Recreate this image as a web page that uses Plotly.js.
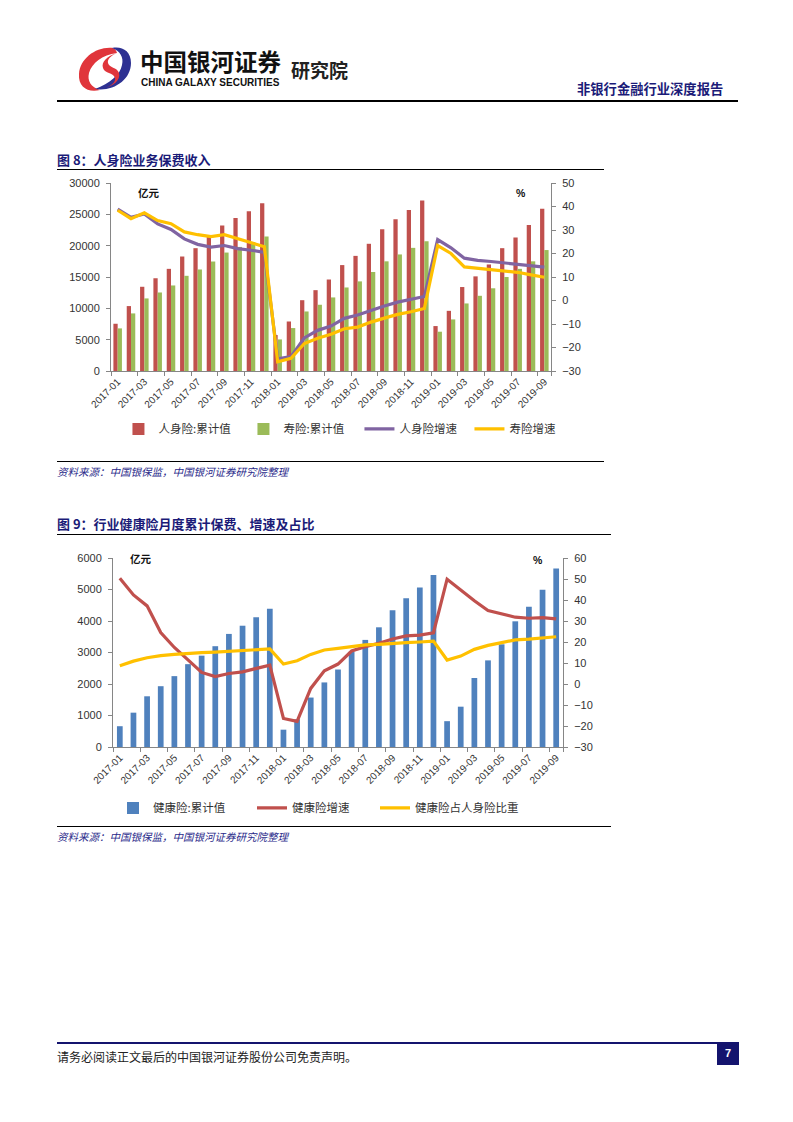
<!DOCTYPE html>
<html>
<head>
<meta charset="utf-8">
<script src="https://cdn.plot.ly/plotly-3.0.1.min.js"></script>
<style>
  html, body { margin:0; padding:0; background:#fff; }
  body { width:793px; height:1122px; position:relative; overflow:hidden; font-family:"Noto Sans CJK SC", "Noto Sans", sans-serif; }
  .abs { position:absolute; white-space:nowrap; line-height:1; }
  .rule { position:absolute; background:#000; }
  .title { color:#1b1b78; font-weight:700; font-size:13px; }
  .src { color:#2a2a8a; font-style:italic; font-size:10.5px; }
  #c1, #c2 { position:absolute; left:0; width:793px; height:290px; }
</style>
</head>
<body>
<!-- header -->
<svg class="abs" style="left:77px;top:44px" width="56" height="50" viewBox="0 0 56 50">
  <path d="M36,4 C20,2 3,14 2,30 C1,43 11,49 23,46 C14,43 10,37 12,29 C15,19 25,11 40,9 C39,6 38,5 36,4 Z" fill="#e0353b"/>
  <path d="M18,45 C36,48 54,36 54,19 C54,7 45,2 35,4 C43,7 47,13 45,21 C43,31 33,39 18,45 Z" fill="#2e3192"/>
  <path d="M40,9 C30,12 24,18 26,24 C28,30 36,28 38,34 C39,38 34,42 28,44 C36,42 44,36 42,29 C40,23 32,24 31,19 C30,15 35,11 40,9 Z" fill="#e0353b"/>
</svg>
<div class="abs" style="left:140px;top:50px;font-size:23.5px;font-weight:700;color:#111;">中国银河证券</div>
<div class="abs" style="left:141px;top:77.5px;font-size:10px;font-weight:700;color:#111;font-family:'Liberation Sans',Arial,sans-serif;">CHINA GALAXY SECURITIES</div>
<div class="abs" style="left:291px;top:60px;font-size:19px;font-weight:700;color:#222;">研究院</div>
<div class="abs" style="left:577px;top:81.5px;font-size:13.3px;font-weight:700;color:#1b1b78;">非银行金融行业深度报告</div>
<div class="rule" style="left:57px;top:100px;width:681px;height:2px;"></div>

<!-- figure 8 -->
<div class="abs title" style="left:57px;top:153px;">图 8：人身险业务保费收入</div>
<div class="rule" style="left:57px;top:169px;width:547px;height:1.3px;"></div>
<div id="c1" style="top:172px;"></div>
<div class="rule" style="left:57px;top:460.5px;width:547px;height:1.3px;"></div>
<div class="abs src" style="left:57px;top:467px;">资料来源：中国银保监，中国银河证券研究院整理</div>

<!-- figure 9 -->
<div class="abs title" style="left:57px;top:517px;">图 9：行业健康险月度累计保费、增速及占比</div>
<div class="rule" style="left:57px;top:533.5px;width:554px;height:1.3px;"></div>
<div id="c2" style="top:540px;"></div>
<div class="rule" style="left:57px;top:825.5px;width:554px;height:1.3px;"></div>
<div class="abs src" style="left:57px;top:831.5px;">资料来源：中国银保监，中国银河证券研究院整理</div>

<!-- footer -->
<div class="rule" style="left:57px;top:1041.5px;width:681px;height:2.2px;background:#14146e;"></div>
<div class="abs" style="left:57px;top:1051px;font-size:12px;color:#222;">请务必阅读正文最后的中国银河证券股份公司免责声明。</div>
<div class="abs" style="left:717px;top:1042px;width:22px;height:23px;background:#14146e;color:#fff;font-size:11px;font-weight:700;font-family:'Liberation Sans',Arial,sans-serif;text-align:center;line-height:22px;">7</div>

<script>
// ---------- data ----------
const months = ["2017-01","2017-02","2017-03","2017-04","2017-05","2017-06","2017-07","2017-08","2017-09","2017-10","2017-11","2017-12",
                "2018-01","2018-02","2018-03","2018-04","2018-05","2018-06","2018-07","2018-08","2018-09","2018-10","2018-11","2018-12",
                "2019-01","2019-02","2019-03","2019-04","2019-05","2019-06","2019-07","2019-08","2019-09"];
const tickLabels = ["2017-01","2017-03","2017-05","2017-07","2017-09","2017-11","2018-01","2018-03","2018-05","2018-07","2018-09","2018-11",
                    "2019-01","2019-03","2019-05","2019-07","2019-09"];

// Figure 8
const lifeCum   = [7540,10360,13440,14800,16300,18270,19600,21400,23200,24400,25500,26770,
                   5740,7900,11300,12900,14600,16900,18370,20300,22600,24200,25700,27200,
                   7170,9600,13400,15100,17000,19600,21300,23300,25900];
const termCum   = [6800,9190,11580,12530,13650,15190,16200,17470,18900,19800,20600,21450,
                   5040,6850,9500,10570,11740,13330,14300,15800,17500,18600,19650,20700,
                   6270,8230,10780,12000,13200,15000,16300,17500,19300];
const lifeGrowth = [38.9,35.4,36.8,32.6,30.2,26.2,23.9,22.7,23.4,22.1,21.4,20.5,
                    -24.8,-23.9,-15.9,-12.7,-10.9,-7.6,-6.2,-4.1,-2.3,-0.7,0.4,1.7,
                    25.9,22.4,18.0,17.1,16.6,16.0,15.7,14.9,14.2];
const termGrowth = [38.4,34.8,37.3,34.0,32.7,29.2,28.0,27.2,28.0,26.2,24.5,22.9,
                    -26.1,-24.6,-18.3,-16.1,-14.4,-12.0,-11.3,-9.2,-7.5,-5.9,-4.8,-3.4,
                    23.4,20.0,14.3,13.7,13.0,12.5,12.0,10.9,9.9];

// Figure 9
const healthCum = [660,1090,1610,1930,2250,2630,2900,3200,3590,3850,4120,4390,
                   550,880,1570,2050,2460,3030,3400,3800,4340,4720,5060,5460,
                   820,1280,2190,2750,3260,3990,4450,4990,5670];
const healthGrowth = [50.4,42.4,37.2,24.5,17.4,11.4,5.5,3.5,5.0,5.8,7.3,9.0,
                      -16.4,-17.8,-2.1,6.3,9.5,15.7,17.8,19.4,21.4,22.9,23.3,24.4,
                      49.9,44.8,39.6,35.0,33.4,31.8,31.3,31.6,31.0];
const healthShare = [8.7,10.9,12.5,13.5,14.1,14.6,14.9,15.2,15.6,15.9,16.2,16.7,
                     9.5,11.1,14.1,16.2,17.0,17.8,18.6,18.9,19.4,19.7,20.0,20.4,
                     11.4,13.3,16.5,18.4,19.7,21.0,21.4,22.0,22.5];

// ---------- styling ----------
const tickFont = {family:"Liberation Sans, Arial, sans-serif", size:11, color:"#333"};
const xTickFont = {family:"Liberation Sans, Arial, sans-serif", size:10, color:"#333"};
const legFont = {family:"Noto Sans CJK SC, sans-serif", size:11.5, color:"#333"};
const axisCol = "#868686";

function xAxis() {
  return {type:"category", categoryorder:"array", categoryarray:months,
          tickmode:"array", tickvals:tickLabels, ticktext:tickLabels, tickson:"boundaries",
          tickangle:-45, tickfont:xTickFont, ticks:"outside", ticklen:4, tickcolor:axisCol,
          showline:true, linecolor:axisCol, linewidth:1, showgrid:false, zeroline:false,
          range:[-0.5, months.length-0.5], fixedrange:true};
}
function yAxis(range, dtick, side) {
  const a = {range:range, dtick:dtick, tick0:range[0], tickmode:"linear", tickformat:"d", tickfont:tickFont,
             ticks:"outside", ticklen:4, tickcolor:axisCol, showline:true, linecolor:axisCol,
             linewidth:1, showgrid:false, zeroline:false, ticklabelstandoff:4, fixedrange:true};
  if (side === "right") { a.side = "right"; a.overlaying = "y"; }
  return a;
}

// ---------- Figure 8 ----------
const c1traces = [
  {type:"bar", name:"人身险:累计值", x:months, y:lifeCum, marker:{color:"#C0504D"}, legendwidth:72.5},
  {type:"bar", name:"寿险:累计值", x:months, y:termCum, marker:{color:"#9BBB59"}, legendwidth:63.5},
  {type:"scatter", mode:"lines", name:"人身险增速", x:months, y:lifeGrowth, yaxis:"y2",
   line:{color:"#8064A2", width:3.2}, legendwidth:57.5},
  {type:"scatter", mode:"lines", name:"寿险增速", x:months, y:termGrowth, yaxis:"y2",
   line:{color:"#FFC000", width:3.2}, legendwidth:52}
];
const c1layout = {
  width:793, height:290,
  margin:{l:110.5, r:241.5, t:11, b:90.5, autoexpand:false},
  paper_bgcolor:"rgba(0,0,0,0)", plot_bgcolor:"rgba(0,0,0,0)",
  barmode:"group", bargap:0.36, bargroupgap:0,
  xaxis:xAxis(),
  yaxis:yAxis([0,30000], 5000, "left"),
  yaxis2:yAxis([-30,50], 10, "right"),
  showlegend:true,
  legend:{orientation:"h", x:-0.0001, xanchor:"left", y:-(415-371.5)/188.5, yanchor:"top",
          indentation:7.5, font:legFont, traceorder:"normal", bgcolor:"rgba(0,0,0,0)"},
  annotations:[
    {text:"<b>亿元</b>", xref:"paper", yref:"paper", x:(136-110.5)/441, y:(371.5-193)/188.5,
     xanchor:"left", yanchor:"middle", showarrow:false, font:{family:"Noto Sans CJK SC", size:10.5, color:"#111"}},
    {text:"<b>%</b>", xref:"paper", yref:"paper", x:(521-110.5)/441, y:(371.5-193.5)/188.5,
     xanchor:"center", yanchor:"middle", showarrow:false, font:{family:"Liberation Sans", size:10.5, color:"#111"}}
  ],
  font:{family:"Liberation Sans, Arial, sans-serif"}
};
Plotly.newPlot("c1", c1traces, c1layout, {displayModeBar:false, staticPlot:true});

// ---------- Figure 9 ----------
const c2traces = [
  {type:"bar", name:"健康险:累计值", x:months, y:healthCum, marker:{color:"#4F81BD"}, legendwidth:94},
  {type:"scatter", mode:"lines", name:"健康险增速", x:months, y:healthGrowth, yaxis:"y2",
   line:{color:"#C0504D", width:3.2}, legendwidth:78},
  {type:"scatter", mode:"lines", name:"健康险占人身险比重", x:months, y:healthShare, yaxis:"y2",
   line:{color:"#FFC000", width:3.2}, legendwidth:110}
];
const c2layout = {
  width:793, height:290,
  margin:{l:113, r:230, t:18.3, b:83.3, autoexpand:false},
  paper_bgcolor:"rgba(0,0,0,0)", plot_bgcolor:"rgba(0,0,0,0)",
  barmode:"group", bargap:0.58,
  xaxis:xAxis(),
  yaxis:yAxis([0,6000], 1000, "left"),
  yaxis2:yAxis([-30,60], 10, "right"),
  showlegend:true,
  legend:{orientation:"h", x:0, xanchor:"left", y:-(793-746.7)/188.4, yanchor:"top",
          font:legFont, traceorder:"normal", bgcolor:"rgba(0,0,0,0)"},
  annotations:[
    {text:"<b>亿元</b>", xref:"paper", yref:"paper", x:(128-113)/450, y:(746.7-559)/188.4,
     xanchor:"left", yanchor:"middle", showarrow:false, font:{family:"Noto Sans CJK SC", size:10.5, color:"#111"}},
    {text:"<b>%</b>", xref:"paper", yref:"paper", x:(537.5-113)/450, y:(746.7-560)/188.4,
     xanchor:"center", yanchor:"middle", showarrow:false, font:{family:"Liberation Sans", size:10.5, color:"#111"}}
  ],
  font:{family:"Liberation Sans, Arial, sans-serif"}
};
Plotly.newPlot("c2", c2traces, c2layout, {displayModeBar:false, staticPlot:true});
</script>
</body>
</html>
